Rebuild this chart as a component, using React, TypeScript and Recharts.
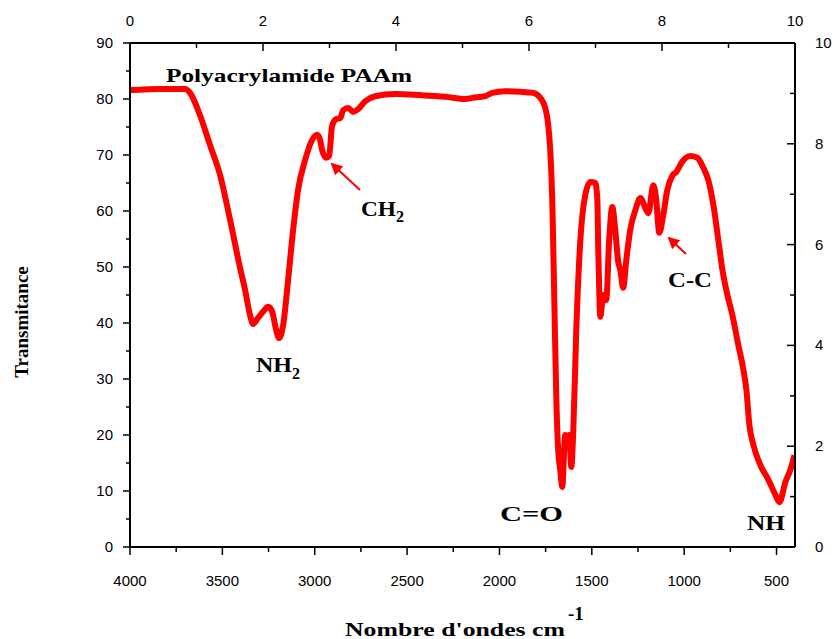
import { Line, LineChart, XAxis, YAxis } from "recharts";

// wavenumber (cm-1) and transmittance
const wavenumbers = [
  4000, 3837, 3702, 3675, 3621, 3567, 3512, 3458, 3404, 3377, 3350, 3334, 3307, 3280, 3252, 3231,
  3209, 3193, 3171, 3144, 3117, 3090, 3052, 3014, 2987, 2971, 2960, 2938, 2922, 2906, 2884, 2862,
  2846, 2819, 2792, 2765, 2727, 2673, 2565, 2429, 2294, 2185, 2147, 2077, 2039, 1969, 1887, 1817,
  1779, 1752, 1736, 1725, 1714, 1703, 1692, 1682, 1671, 1660, 1644, 1633, 1622, 1611, 1600, 1584,
  1562, 1535, 1508, 1481, 1470, 1465, 1460, 1454, 1438, 1422, 1406, 1389, 1373, 1357, 1346, 1330,
  1313, 1292, 1264, 1237, 1210, 1194, 1167, 1151, 1135, 1113, 1091, 1064, 1042, 1010, 967, 929,
  896, 869, 842, 815, 793, 766, 739, 707, 679, 663, 647, 625, 587, 544, 506, 484, 452, 425, 403
];
const transmittance = [
  81.6, 81.8, 81.8, 81.1, 77.1, 71.8, 66.4, 58.4, 49.8, 45.9, 41.4, 39.8, 40.9, 42.0, 42.9, 42.1,
  38.8, 37.3, 39.6, 47.7, 56.6, 63.8, 69.1, 72.7, 73.6, 72.7, 70.9, 69.5, 69.8, 75.2, 76.4, 76.6,
  78.0, 78.4, 77.7, 78.2, 79.6, 80.5, 80.9, 80.7, 80.4, 80.0, 80.2, 80.5, 81.1, 81.4, 81.3, 81.1,
  80.2, 78.4, 75.4, 70.9, 62.0, 44.1, 26.3, 17.3, 13.8, 10.7, 20.0, 18.2, 20.0, 14.3, 20.9, 38.8,
  54.8, 62.9, 65.2, 65.0, 62.0, 53.0, 45.9, 41.1, 45.0, 44.1, 54.8, 60.7, 56.6, 50.9, 49.5, 46.3,
  51.3, 56.6, 60.2, 62.3, 60.5, 59.6, 64.6, 62.0, 56.1, 59.3, 63.8, 66.3, 67.0, 68.8, 69.8, 69.5,
  67.7, 65.5, 61.1, 54.8, 49.5, 45.0, 41.4, 36.1, 31.6, 28.0, 21.8, 18.2, 14.6, 12.0, 9.3, 8.0,
  11.6, 13.8, 16.4
];

const bottomTicks = [4000, 3750, 3500, 3250, 3000, 2750, 2500, 2250, 2000, 1750, 1500, 1250, 1000, 750, 500];
const topTicks = [0, 1, 2, 3, 4, 5, 6, 7, 8, 9, 10];
const leftTicks = [0, 5, 10, 15, 20, 25, 30, 35, 40, 45, 50, 55, 60, 65, 70, 75, 80, 85, 90];
const rightTicks = [0, 1, 2, 3, 4, 5, 6, 7, 8, 9, 10];

// the top axis is a plain 0..10 scale spanning the same width as 4000..400
const data = wavenumbers.map((wn, i) => ({ wn, t: transmittance[i], top: (4000 - wn) / 360 }));

const SANS = "'Liberation Sans', Arial, sans-serif";
const SERIF = "'Liberation Serif', 'Times New Roman', serif";
const RED = "#ff0000";

function BottomTick(props: any) {
  const { x, y, payload } = props;
  const major = payload.value % 500 === 0;
  return (
    <g>
      <line x1={x} x2={x} y1={y} y2={y + (major ? 8 : 5)} stroke="#000" strokeWidth={1.5} />
      {major ? (
        <text x={x} y={y + 39} textAnchor="middle" fontSize={15} fontFamily={SANS} fill="#000">
          {payload.value}
        </text>
      ) : null}
    </g>
  );
}

function TopTick(props: any) {
  const { x, y, payload } = props;
  const major = payload.value % 2 === 0;
  return (
    <g>
      <line x1={x} x2={x} y1={y} y2={y + (major ? 8 : 5)} stroke="#000" strokeWidth={1.5} />
      {major ? (
        <text x={x} y={y - 17} textAnchor="middle" fontSize={15} fontFamily={SANS} fill="#000">
          {payload.value}
        </text>
      ) : null}
    </g>
  );
}

function LeftTick(props: any) {
  const { x, y, payload } = props;
  const major = payload.value % 10 === 0;
  return (
    <g>
      <line x1={x} x2={x - (major ? 7 : 4)} y1={y} y2={y} stroke="#000" strokeWidth={1.5} />
      {major ? (
        <text x={x - 17} y={y + 5} textAnchor="end" fontSize={15} fontFamily={SANS} fill="#000">
          {payload.value}
        </text>
      ) : null}
    </g>
  );
}

function RightTick(props: any) {
  const { x, y, payload } = props;
  const major = payload.value % 2 === 0;
  return (
    <g>
      <line x1={x} x2={x - (major ? 8 : 5)} y1={y} y2={y} stroke="#000" strokeWidth={1.5} />
      {major ? (
        <text x={x + 20} y={y + 5} textAnchor="start" fontSize={15} fontFamily={SANS} fill="#000">
          {payload.value}
        </text>
      ) : null}
    </g>
  );
}

function Annotations() {
  const bold = { fontFamily: SERIF, fontWeight: 700, fill: "#000" } as const;
  return (
    <svg
      width={838}
      height={639}
      style={{ position: "absolute", left: 0, top: 0, pointerEvents: "none" }}
    >
      <defs>
        <marker id="arrowhead" markerWidth="6" markerHeight="6" refX="5" refY="3" orient="auto">
          <path d="M0,0 L6,3 L0,6 z" fill={RED} />
        </marker>
      </defs>
      <text x={166} y={82} fontSize={19} textLength={246} lengthAdjust="spacingAndGlyphs" {...bold}>
        Polyacrylamide PAAm
      </text>

      <line x1={360} y1={190} x2={332} y2={164} stroke={RED} strokeWidth={2} markerEnd="url(#arrowhead)" />
      <text x={361} y={216} fontSize={20} {...bold}>
        <tspan textLength={35} lengthAdjust="spacingAndGlyphs">CH</tspan>
        <tspan fontSize={16} dy={6}>2</tspan>
      </text>

      <text x={256} y={372} fontSize={20} {...bold}>
        <tspan textLength={36} lengthAdjust="spacingAndGlyphs">NH</tspan>
        <tspan fontSize={16} dy={7}>2</tspan>
      </text>

      <text x={500} y={521} fontSize={20} textLength={63} lengthAdjust="spacingAndGlyphs" {...bold}>
        C=O
      </text>

      <line x1={686} y1={254} x2={669} y2={238} stroke={RED} strokeWidth={2} markerEnd="url(#arrowhead)" />
      <text x={668} y={287} fontSize={20} textLength={44} lengthAdjust="spacingAndGlyphs" {...bold}>
        C-C
      </text>

      <text x={747} y={530} fontSize={20} textLength={38} lengthAdjust="spacingAndGlyphs" {...bold}>
        NH
      </text>

      <text
        transform="translate(28,322) rotate(-90)"
        textAnchor="middle"
        fontSize={19}
        {...bold}
      >
        Transmitance
      </text>

      <text x={345} y={636} fontSize={19} {...bold}>
        <tspan textLength={220} lengthAdjust="spacingAndGlyphs">Nombre d'ondes cm</tspan>
        <tspan dx={3} dy={-16} fontSize={19}>-1</tspan>
      </text>
    </svg>
  );
}

export default function App() {
  return (
    <div style={{ position: "absolute", left: 0, top: 0, width: 838, height: 639, background: "#fff" }}>
      <LineChart
        width={838}
        height={639}
        data={data}
        margin={{ top: 13, right: 3, bottom: 52, left: 70 }}
      >
        <XAxis
          xAxisId="bottom"
          dataKey="wn"
          type="number"
          domain={[400, 4000]}
          reversed
          allowDataOverflow
          ticks={bottomTicks}
          interval={0}
          tickSize={0}
          tickMargin={0}
          tickLine={false}
          tick={<BottomTick />}
          height={40}
          axisLine={{ stroke: "#000", strokeWidth: 2 }}
        />
        <XAxis
          xAxisId="top"
          dataKey="top"
          orientation="top"
          type="number"
          domain={[0, 10]}
          allowDataOverflow
          ticks={topTicks}
          interval={0}
          tickSize={0}
          tickMargin={0}
          tickLine={false}
          tick={<TopTick />}
          height={30}
          axisLine={{ stroke: "#000", strokeWidth: 2 }}
        />
        <YAxis
          yAxisId="left"
          type="number"
          domain={[0, 90]}
          allowDataOverflow
          ticks={leftTicks}
          interval={0}
          tickSize={0}
          tickMargin={0}
          tickLine={false}
          tick={<LeftTick />}
          width={60}
          axisLine={{ stroke: "#000", strokeWidth: 2 }}
        />
        <YAxis
          yAxisId="right"
          orientation="right"
          type="number"
          domain={[0, 10]}
          allowDataOverflow
          ticks={rightTicks}
          interval={0}
          tickSize={0}
          tickMargin={0}
          tickLine={false}
          tick={<RightTick />}
          width={40}
          axisLine={{ stroke: "#000", strokeWidth: 2 }}
        />
        <Line
          xAxisId="bottom"
          yAxisId="left"
          dataKey="t"
          type="monotone"
          stroke={RED}
          strokeWidth={6}
          strokeLinejoin="round"
          dot={false}
          activeDot={false}
          isAnimationActive={false}
        />
      </LineChart>
      <Annotations />
    </div>
  );
}
